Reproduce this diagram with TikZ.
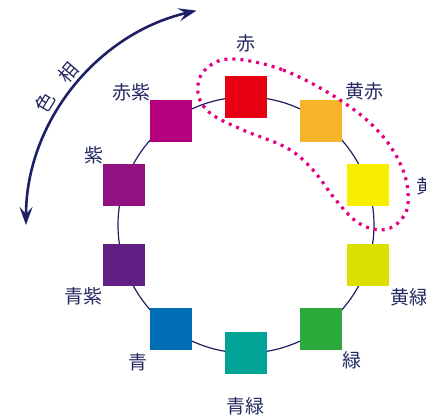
\documentclass[tikz,border=0pt]{standalone}
\usepackage{fontspec}
\newfontfamily\jp{Noto Sans CJK JP}
\usetikzlibrary{arrows.meta,calc}
\definecolor{navy}{HTML}{1D2064}
\definecolor{txt}{HTML}{232A62}
\definecolor{magdot}{HTML}{E4007F}
\definecolor{cR}{HTML}{E60012}
\definecolor{cYR}{HTML}{F6B42A}
\definecolor{cY}{HTML}{F8EE00}
\definecolor{cYG}{HTML}{DCE000}
\definecolor{cG}{HTML}{2BA93A}
\definecolor{cBG}{HTML}{00A496}
\definecolor{cB}{HTML}{006EB5}
\definecolor{cBV}{HTML}{611F84}
\definecolor{cV}{HTML}{921180}
\definecolor{cRV}{HTML}{B5007E}
\tikzset{
  sq/.style={rectangle, minimum size=42pt, inner sep=0pt, fill=#1},
  lbl/.style={text=txt, inner sep=0pt, font=\jp\fontsize{19}{19}\selectfont},
  ring/.style={draw=navy, line width=1.2pt},
  hue/.style={draw=navy, line width=2.6pt, {Stealth[length=18pt,width=13pt,inset=7pt]}-{Stealth[length=18pt,width=13pt,inset=7pt]}},
  loopline/.style={draw=magdot, line width=3.2pt, dash pattern=on 3pt off 5pt}
}
\begin{document}
\begin{tikzpicture}[x=1pt,y=1pt]
\useasboundingbox (0,0) rectangle (426,419);
\clip (0,0) rectangle (426,419);
\coordinate (C) at (246,194);
% hue arc
\coordinate (hs) at ($(C)+(180:220)$);
\draw[hue] (hs) arc[start angle=180, end angle=103, radius=220];
\node[lbl, rotate=59] (shoku) at (45,316) {色};
\node[lbl, rotate=49] (sou) at (68,346) {相};
% ring
\draw[ring] (C) circle (128);
% squares
\node[sq=cR]  (r)  at ($(C)+(90:128)$) {};
\node[sq=cYR] (yr) at ($(C)+(54:128)$) {};
\node[sq=cY]  (y)  at ($(C)+(18:128)$) {};
\node[sq=cYG] (yg) at ($(C)+(-18:128)$) {};
\node[sq=cG]  (g)  at ($(C)+(-54:128)$) {};
\node[sq=cBG] (bg) at ($(C)+(-90:128)$) {};
\node[sq=cB]  (b)  at ($(C)+(-126:128)$) {};
\node[sq=cBV] (bv) at ($(C)+(-162:128)$) {};
\node[sq=cV]  (v)  at ($(C)+(162:128)$) {};
\node[sq=cRV] (rv) at ($(C)+(126:128)$) {};
% labels
\node[lbl] (lr)  at (246,376) {赤};
\node[lbl] (lyr) at (364,328) {黄赤};
\node[lbl, anchor=west] (ly)  at (416,233) {黄};
\node[lbl, anchor=west] (lyg) at (390,122) {黄緑};
\node[lbl] (lg)  at (352,59) {緑};
\node[lbl] (lbg) at (245,13) {青緑};
\node[lbl] (lb)  at (138,57) {青};
\node[lbl] (lbv) at (83,123) {青紫};
\node[lbl] (lv)  at (94,264) {紫};
\node[lbl] (lrv) at (131,327) {赤紫};
% dotted loop
\draw[loopline] plot[smooth cycle, tension=0.6] coordinates {
 (230,360) (283,349) (340,319) (380,286) (403,249) (408,215) (398,196)
 (380,189) (357,197) (335,220) (313,249) (287,271) (243,289) (210,306)
 (198,326) (204,348)};
\end{tikzpicture}
\end{document}
